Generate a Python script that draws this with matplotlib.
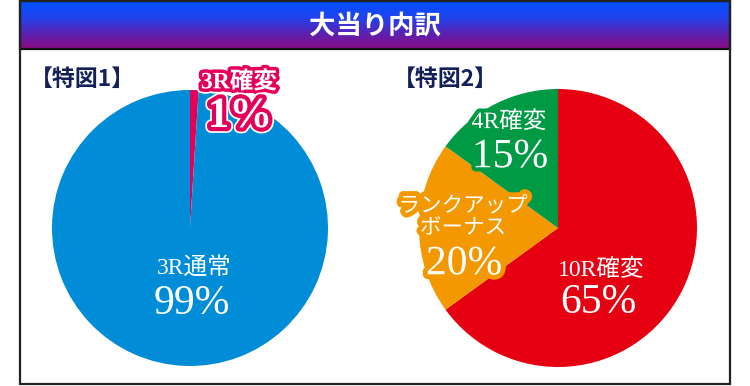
import matplotlib
matplotlib.use("Agg")
import matplotlib.pyplot as plt
import matplotlib.patheffects as pe
import numpy as np
from matplotlib.patches import Rectangle
from matplotlib.colors import LinearSegmentedColormap

# ---- data ----
title = "大当り内訳"
pie1_title = "【特図1】"
pie1_labels = ["3R確変", "3R通常"]
pie1_values = [1, 99]
pie1_colors = ["#E4005A", "#008CD6"]

pie2_title = "【特図2】"
pie2_labels = ["10R確変", "ランクアップ\nボーナス", "4R確変"]
pie2_values = [65, 20, 15]
pie2_colors = ["#E50012", "#F39800", "#009944"]

W, H = 750, 386
fig = plt.figure(figsize=(7.5, 3.86), dpi=100)
ax = fig.add_axes([0, 0, 1, 1])

def fy(y):
    return H - y

JP = ["Liberation Serif", "Noto Sans CJK JP"]
SER = ["Liberation Serif", "DejaVu Serif"]

# pies
ax.pie(pie1_values, colors=pie1_colors, startangle=90, counterclock=False,
       center=(190, fy(228)), radius=138, wedgeprops=dict(linewidth=0))
ax.pie(pie2_values, colors=pie2_colors, startangle=90, counterclock=False,
       center=(558, fy(228)), radius=139, wedgeprops=dict(linewidth=0))

# title gradient bar
grad = np.linspace(0, 1, 256).reshape(-1, 1)
cmap = LinearSegmentedColormap.from_list("tb", ["#0052FF", "#1F44EE", "#5A22B4", "#8C0A80"])
ax.imshow(grad, cmap=cmap, extent=[20, 730, fy(49), fy(1)], aspect="auto",
          origin="upper", zorder=0.5)
ax.add_patch(Rectangle((20, fy(49)), 710, 48, fill=False, edgecolor="#111111",
                       linewidth=1.6, zorder=3))
ax.add_patch(Rectangle((20, fy(384)), 710, 383, fill=False, edgecolor="#222222",
                       linewidth=1.6, zorder=3))
ax.text(375, fy(26), title, color="white", fontsize=19, fontweight="bold",
        family=["Noto Sans CJK JP"], ha="center", va="center", zorder=4)

navy = "#13205A"
ax.text(30, fy(79), pie1_title, color=navy, fontsize=16.5, fontweight="bold",
        family=["Noto Sans CJK JP"], ha="left", va="center", zorder=4)
ax.text(393, fy(79), pie2_title, color=navy, fontsize=16.5, fontweight="bold",
        family=["Noto Sans CJK JP"], ha="left", va="center", zorder=4)

def outline(c, w):
    return [pe.Stroke(linewidth=w + 2.5, foreground="white"),
            pe.Stroke(linewidth=w, foreground=c), pe.Normal()]

def plain(c, w):
    return [pe.Stroke(linewidth=w, foreground=c), pe.Normal()]

# pie1 labels
ax.text(239, fy(82), pie1_labels[0], color="white", fontsize=17, fontweight="bold",
        family=JP, ha="center", va="center", zorder=5,
        path_effects=outline(pie1_colors[0], 5))
ax.text(240, fy(117), f"{pie1_values[0]}%", color="white", fontsize=31, fontweight="bold",
        family=SER, ha="center", va="center", zorder=5,
        path_effects=outline(pie1_colors[0], 6))
ax.text(194, fy(268), pie1_labels[1], color="white", fontsize=17,
        family=JP, ha="center", va="center", zorder=5)
ax.text(192, fy(304), f"{pie1_values[1]}%", color="white", fontsize=30,
        family=SER, ha="center", va="center", zorder=5)

# pie2 labels
ax.text(601, fy(270), pie2_labels[0], color="white", fontsize=17,
        family=JP, ha="center", va="center", zorder=5)
ax.text(598, fy(303), f"{pie2_values[0]}%", color="white", fontsize=30,
        family=SER, ha="center", va="center", zorder=5)

ax.text(463, fy(218), pie2_labels[1], color="white", fontsize=15.5,
        family=JP, ha="center", va="center", zorder=5, linespacing=1.2,
        path_effects=plain(pie2_colors[1], 7))
ax.text(464, fy(264), f"{pie2_values[1]}%", color="white", fontsize=30,
        family=SER, ha="center", va="center", zorder=5,
        path_effects=plain(pie2_colors[1], 7))

ax.text(509, fy(122), pie2_labels[2], color="white", fontsize=17,
        family=JP, ha="center", va="center", zorder=5,
        path_effects=plain(pie2_colors[2], 6))
ax.text(510, fy(157), f"{pie2_values[2]}%", color="white", fontsize=30,
        family=SER, ha="center", va="center", zorder=5,
        path_effects=plain(pie2_colors[2], 6))

ax.set_xlim(0, W)
ax.set_ylim(0, H)
ax.set_aspect("auto")
ax.axis("off")
fig.savefig("out.png", dpi=100, facecolor="white")
